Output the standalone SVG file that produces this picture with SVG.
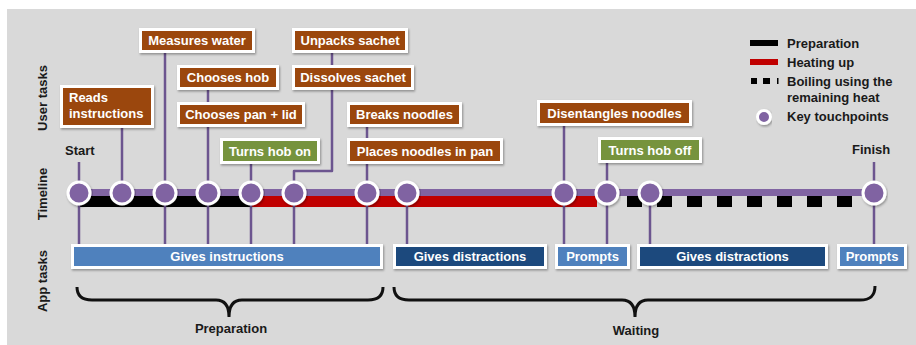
<svg xmlns="http://www.w3.org/2000/svg" width="916" height="345" viewBox="0 0 916 345">
<defs>
<filter id="sh" x="-10%" y="-30%" width="120%" height="160%"><feDropShadow dx="1" dy="1.5" stdDeviation="1.2" flood-color="#000" flood-opacity="0.35"/></filter>
<style>
text{font-family:"Liberation Sans",Arial,sans-serif;font-weight:bold;font-size:13px}
.bt{fill:#fff;text-anchor:middle}
.lb{fill:#1a1a1a}
.br{fill:#9b470b;stroke:#fff;stroke-width:3;filter:url(#sh)}
.gr{fill:#76933c;stroke:#fff;stroke-width:3;filter:url(#sh)}
.lt{fill:#4f81bd;stroke:#fff;stroke-width:3;filter:url(#sh)}
.dk{fill:#1f497d;stroke:#fff;stroke-width:3;filter:url(#sh)}
.cn{stroke:#6c558f;stroke-width:2.5;fill:none;stroke-linejoin:round}
.tp{fill:#8064a2;stroke:#fff;stroke-width:3;filter:url(#sh)}
.brace{stroke:#111;stroke-width:3;fill:none}
</style>
</defs>
<rect x="7" y="9" width="909" height="336" fill="#d9d9d9"/>

<g id="axis-labels">
<text class="lb" transform="translate(47,98) rotate(-90)" text-anchor="middle">User tasks</text>
<text class="lb" transform="translate(47,194) rotate(-90)" text-anchor="middle">Timeline</text>
<text class="lb" transform="translate(47,281) rotate(-90)" text-anchor="middle">App tasks</text>
</g>

<g id="timeline-bands">
<rect x="79" y="189" width="795" height="7" fill="#8064a2"/>
<rect x="79" y="196" width="172" height="11" fill="#000"/>
<rect x="251" y="196" width="346" height="11" fill="#c00000"/>
<line x1="627" y1="201.5" x2="855" y2="201.5" stroke="#000" stroke-width="11" stroke-dasharray="15 15"/>
</g>

<g id="connectors">
<line class="cn" x1="79" y1="162" x2="79" y2="244"/>
<line class="cn" x1="122" y1="128" x2="122" y2="193"/>
<line class="cn" x1="165" y1="52" x2="165" y2="244"/>
<line class="cn" x1="208" y1="89" x2="208" y2="102"/>
<line class="cn" x1="208" y1="127" x2="208" y2="244"/>
<line class="cn" x1="251" y1="164" x2="251" y2="244"/>
<line class="cn" x1="332" y1="53" x2="332" y2="65"/>
<path class="cn" d="M332,90 L332,171 L294,171 L294,244"/>
<line class="cn" x1="367" y1="127" x2="367" y2="138"/>
<line class="cn" x1="367" y1="164" x2="367" y2="244"/>
<line class="cn" x1="407" y1="193" x2="407" y2="244"/>
<line class="cn" x1="564" y1="126" x2="564" y2="244"/>
<line class="cn" x1="607" y1="163" x2="607" y2="244"/>
<line class="cn" x1="650" y1="193" x2="650" y2="244"/>
<line class="cn" x1="874" y1="162" x2="874" y2="244"/>
</g>

<g id="touchpoints">
<circle class="tp" cx="79" cy="193" r="11"/>
<circle class="tp" cx="122" cy="193" r="11"/>
<circle class="tp" cx="165" cy="193" r="11"/>
<circle class="tp" cx="208" cy="193" r="11"/>
<circle class="tp" cx="251" cy="193" r="11"/>
<circle class="tp" cx="294" cy="193" r="11"/>
<circle class="tp" cx="367" cy="193" r="11"/>
<circle class="tp" cx="407" cy="193" r="11"/>
<circle class="tp" cx="564" cy="193" r="11"/>
<circle class="tp" cx="607" cy="193" r="11"/>
<circle class="tp" cx="650" cy="193" r="11"/>
<circle class="tp" cx="874" cy="193" r="11"/>
</g>

<g id="start"><text class="lb" x="65" y="155">Start</text></g>
<g id="finish"><text class="lb" x="852" y="154">Finish</text></g>

<g id="measures-water"><rect class="br" x="140.5" y="29.5" width="113" height="22"/><text class="bt" x="197" y="45">Measures water</text></g>
<g id="unpacks-sachet"><rect class="br" x="293.5" y="29.5" width="113" height="22"/><text class="bt" x="350" y="45">Unpacks sachet</text></g>
<g id="chooses-hob"><rect class="br" x="178.5" y="66.5" width="99" height="22"/><text class="bt" x="228" y="82">Chooses hob</text></g>
<g id="dissolves-sachet"><rect class="br" x="293.5" y="66.5" width="119" height="22"/><text class="bt" x="353" y="82">Dissolves sachet</text></g>
<g id="reads-instructions"><rect class="br" x="61.5" y="86.5" width="91" height="40"/><text x="69" y="102" fill="#fff">Reads</text><text x="69" y="118" fill="#fff">instructions</text></g>
<g id="chooses-pan"><rect class="br" x="178.5" y="103.5" width="125" height="22"/><text class="bt" x="241" y="119">Chooses pan + lid</text></g>
<g id="breaks-noodles"><rect class="br" x="348.5" y="103.5" width="112" height="22"/><text class="bt" x="404.5" y="119">Breaks noodles</text></g>
<g id="turns-hob-on"><rect class="gr" x="221.5" y="139.5" width="97" height="23"/><text class="bt" x="270" y="156">Turns hob on</text></g>
<g id="places-noodles"><rect class="br" x="348.5" y="139.5" width="153" height="23"/><text class="bt" x="425" y="156">Places noodles in pan</text></g>
<g id="disentangles-noodles"><rect class="br" x="538.5" y="101.5" width="152" height="23"/><text class="bt" x="614.5" y="118">Disentangles noodles</text></g>
<g id="turns-hob-off"><rect class="gr" x="599.5" y="138.5" width="101" height="23"/><text class="bt" x="650" y="155">Turns hob off</text></g>

<g id="gives-instructions"><rect class="lt" x="72.5" y="245.5" width="309" height="22"/><text class="bt" x="227" y="261">Gives instructions</text></g>
<g id="gives-distractions-1"><rect class="dk" x="394.5" y="245.5" width="151" height="22"/><text class="bt" x="470" y="261">Gives distractions</text></g>
<g id="prompts-1"><rect class="lt" x="556.5" y="245.5" width="72" height="22"/><text class="bt" x="592.5" y="261">Prompts</text></g>
<g id="gives-distractions-2"><rect class="dk" x="638.5" y="245.5" width="188" height="22"/><text class="bt" x="732.5" y="261">Gives distractions</text></g>
<g id="prompts-2"><rect class="lt" x="838.5" y="245.5" width="67" height="22"/><text class="bt" x="872" y="261">Prompts</text></g>

<g id="preparation-brace">
<path class="brace" d="M77,287 C77,296 82,300 92,300 L216,300 C224,300 229,305 229,317 C229,305 234,300 242,300 L368,300 C378,300 383,296 383,287"/>
<text class="lb" x="231" y="333" text-anchor="middle">Preparation</text>
</g>
<g id="waiting-brace">
<path class="brace" d="M394,287 C394,296 399,300 409,300 L622,300 C630,300 635,305 635,317 C635,305 640,300 648,300 L860,300 C870,300 875,296 875,286"/>
<text class="lb" x="636" y="335" text-anchor="middle">Waiting</text>
</g>

<g id="legend">
<rect x="750" y="40" width="28" height="6" fill="#000"/>
<text class="lb" x="787" y="48">Preparation</text>
<rect x="750" y="59" width="28" height="6" fill="#c00000"/>
<text class="lb" x="787" y="67">Heating up</text>
<rect x="751" y="78" width="6" height="6" fill="#000"/>
<rect x="763" y="78" width="7" height="6" fill="#000"/>
<rect x="777" y="78" width="1.5" height="6" fill="#000"/>
<text class="lb" x="787" y="86">Boiling using the</text>
<text class="lb" x="787" y="102">remaining heat</text>
<circle class="tp" cx="764" cy="117" r="6.5" stroke-width="2.5"/>
<text class="lb" x="787" y="121">Key touchpoints</text>
</g>
</svg>
